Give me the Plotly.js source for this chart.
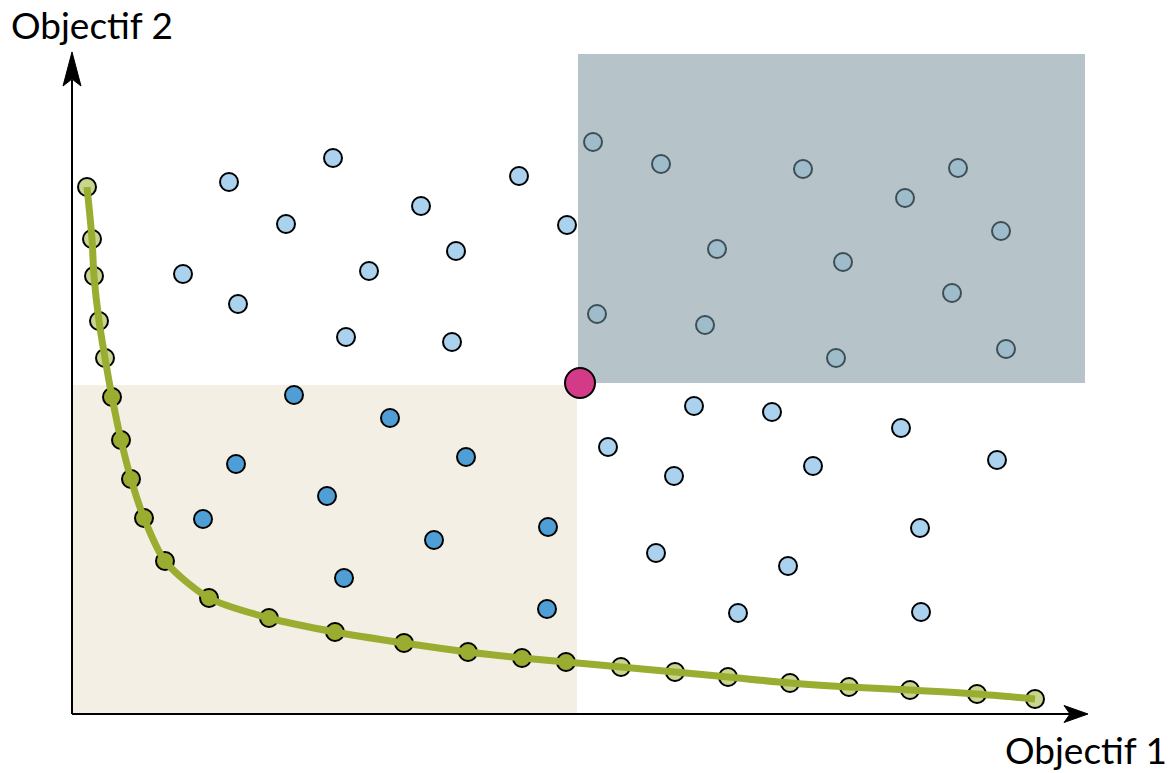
<!DOCTYPE html>
<html><head><meta charset="utf-8">
<script src="https://cdn.plot.ly/plotly-3.0.1.min.js"></script>
<style>html,body{margin:0;padding:0;background:#fff;}#chart{width:1175px;height:773px;}</style>
</head><body><div id="chart"></div>
<script>
// Values in chart units (origin at axes corner)
const frontX = [15, 20, 22, 27, 33, 40, 49, 59, 72, 93, 137, 197, 263, 332, 396, 450, 494, 549, 603, 656, 718, 777, 838, 905, 963];
const frontY = [527, 475, 438, 393, 356, 317, 274, 235, 196, 153, 116, 96, 82, 71, 62, 56, 52, 47, 42, 37, 31, 27, 24, 20, 15];

const otherX = [157, 261, 447, 214, 349, 384, 111, 297, 495, 166, 274, 380, 622, 700, 829, 536, 602, 741, 925, 848, 584, 716, 666, 849];
const otherY = [532, 556, 538, 490, 508, 463, 440, 443, 489, 410, 377, 372, 308, 302, 286, 267, 238, 248, 254, 186, 161, 148, 101, 102];

const dominatedX = [521, 589, 731, 886, 833, 929, 645, 771, 525, 633, 880, 764, 934];
const dominatedY = [572, 550, 545, 546, 516, 483, 465, 452, 400, 389, 421, 356, 365];

const dominatingX = [222, 318, 164, 394, 255, 131, 476, 362, 272, 475];
const dominatingY = [319, 296, 250, 257, 218, 195, 187, 174, 136, 105];

const refX = [508];
const refY = [331];

const xLabel = "Objectif 1";
const yLabel = "Objectif 2";

// layout helpers (pixel -> axis units)
const X0 = 72, Y0 = 714;
const px = p => p - X0;
const py = p => Y0 - p;

const inBox = (x, y) => x <= refX[0] && y <= refY[0];
const frontColors = frontX.map((x, i) => inBox(x, frontY[i]) ? '#9aad30' : '#c6d68f');

const traces = [
  {x: otherX, y: otherY, mode: 'markers', type: 'scatter',
   marker: {size: 18, color: '#aad1ee', line: {color: '#000', width: 2}}},
  {x: dominatedX, y: dominatedY, mode: 'markers', type: 'scatter',
   marker: {size: 18, color: '#9fbccb', line: {color: '#3e4e56', width: 2}}},
  {x: dominatingX, y: dominatingY, mode: 'markers', type: 'scatter',
   marker: {size: 18, color: '#4f9fd6', line: {color: '#000', width: 2}}},
  {x: frontX, y: frontY, mode: 'markers', type: 'scatter',
   marker: {size: 18, color: frontColors, line: {color: '#000', width: 2}}},
  {x: frontX, y: frontY, mode: 'lines', type: 'scatter',
   line: {color: '#9aad30', width: 7, shape: 'spline', smoothing: 0.8}},
  {x: refX, y: refY, mode: 'markers', type: 'scatter',
   marker: {size: 30, color: '#d33a87', line: {color: '#000', width: 2}}}
];

function path(pts) {
  return 'M ' + pts.map(p => px(p[0]) + ',' + py(p[1])).join(' L ') + ' Z';
}

const shapes = [
  {type: 'rect', layer: 'below', xref: 'x', yref: 'y', x0: 0, x1: refX[0] - 3, y0: 0, y1: refY[0] - 2,
   fillcolor: '#f3efe5', line: {width: 0}},
  {type: 'rect', layer: 'below', xref: 'x', yref: 'y', x0: refX[0] - 2, x1: px(1085), y0: refY[0], y1: py(54),
   fillcolor: '#b6c4c9', line: {width: 0}},
  {type: 'line', layer: 'below', xref: 'x', yref: 'y', x0: 0, y0: 0, x1: 0, y1: py(80),
   line: {color: '#000', width: 2}},
  {type: 'line', layer: 'below', xref: 'x', yref: 'y', x0: 0, y0: 0, x1: px(1072), y1: 0,
   line: {color: '#000', width: 2}},
  {type: 'path', xref: 'x', yref: 'y', path: path([[72, 52], [63, 86], [72, 79], [81, 86]]),
   fillcolor: '#000', line: {color: '#000', width: 1}},
  {type: 'path', xref: 'x', yref: 'y', path: path([[1088, 714], [1064, 705.5], [1070, 714], [1064, 722.5]]),
   fillcolor: '#000', line: {color: '#000', width: 1}}
];

const layout = {
  width: 1175, height: 773,
  margin: {l: 0, r: 0, t: 0, b: 0},
  paper_bgcolor: '#fff', plot_bgcolor: '#fff',
  showlegend: false,
  xaxis: {range: [-72, 1103], showgrid: false, zeroline: false, showticklabels: false, showline: false, ticks: '', fixedrange: true},
  yaxis: {range: [-59, 714], showgrid: false, zeroline: false, showticklabels: false, showline: false, ticks: '', fixedrange: true},
  shapes: shapes,
  annotations: [
    {xref: 'paper', yref: 'paper', x: 92 / 1175, y: 1 - 25 / 773, text: yLabel, showarrow: false,
     xanchor: 'center', yanchor: 'middle', font: {family: 'Lato', size: 37, color: '#000'}},
    {xref: 'paper', yref: 'paper', x: 1086 / 1175, y: 1 - 749 / 773, text: xLabel, showarrow: false,
     xanchor: 'center', yanchor: 'middle', font: {family: 'Lato', size: 37, color: '#000'}}
  ]
};

Plotly.newPlot('chart', traces, layout, {staticPlot: true, displayModeBar: false});
</script>
</body></html>
